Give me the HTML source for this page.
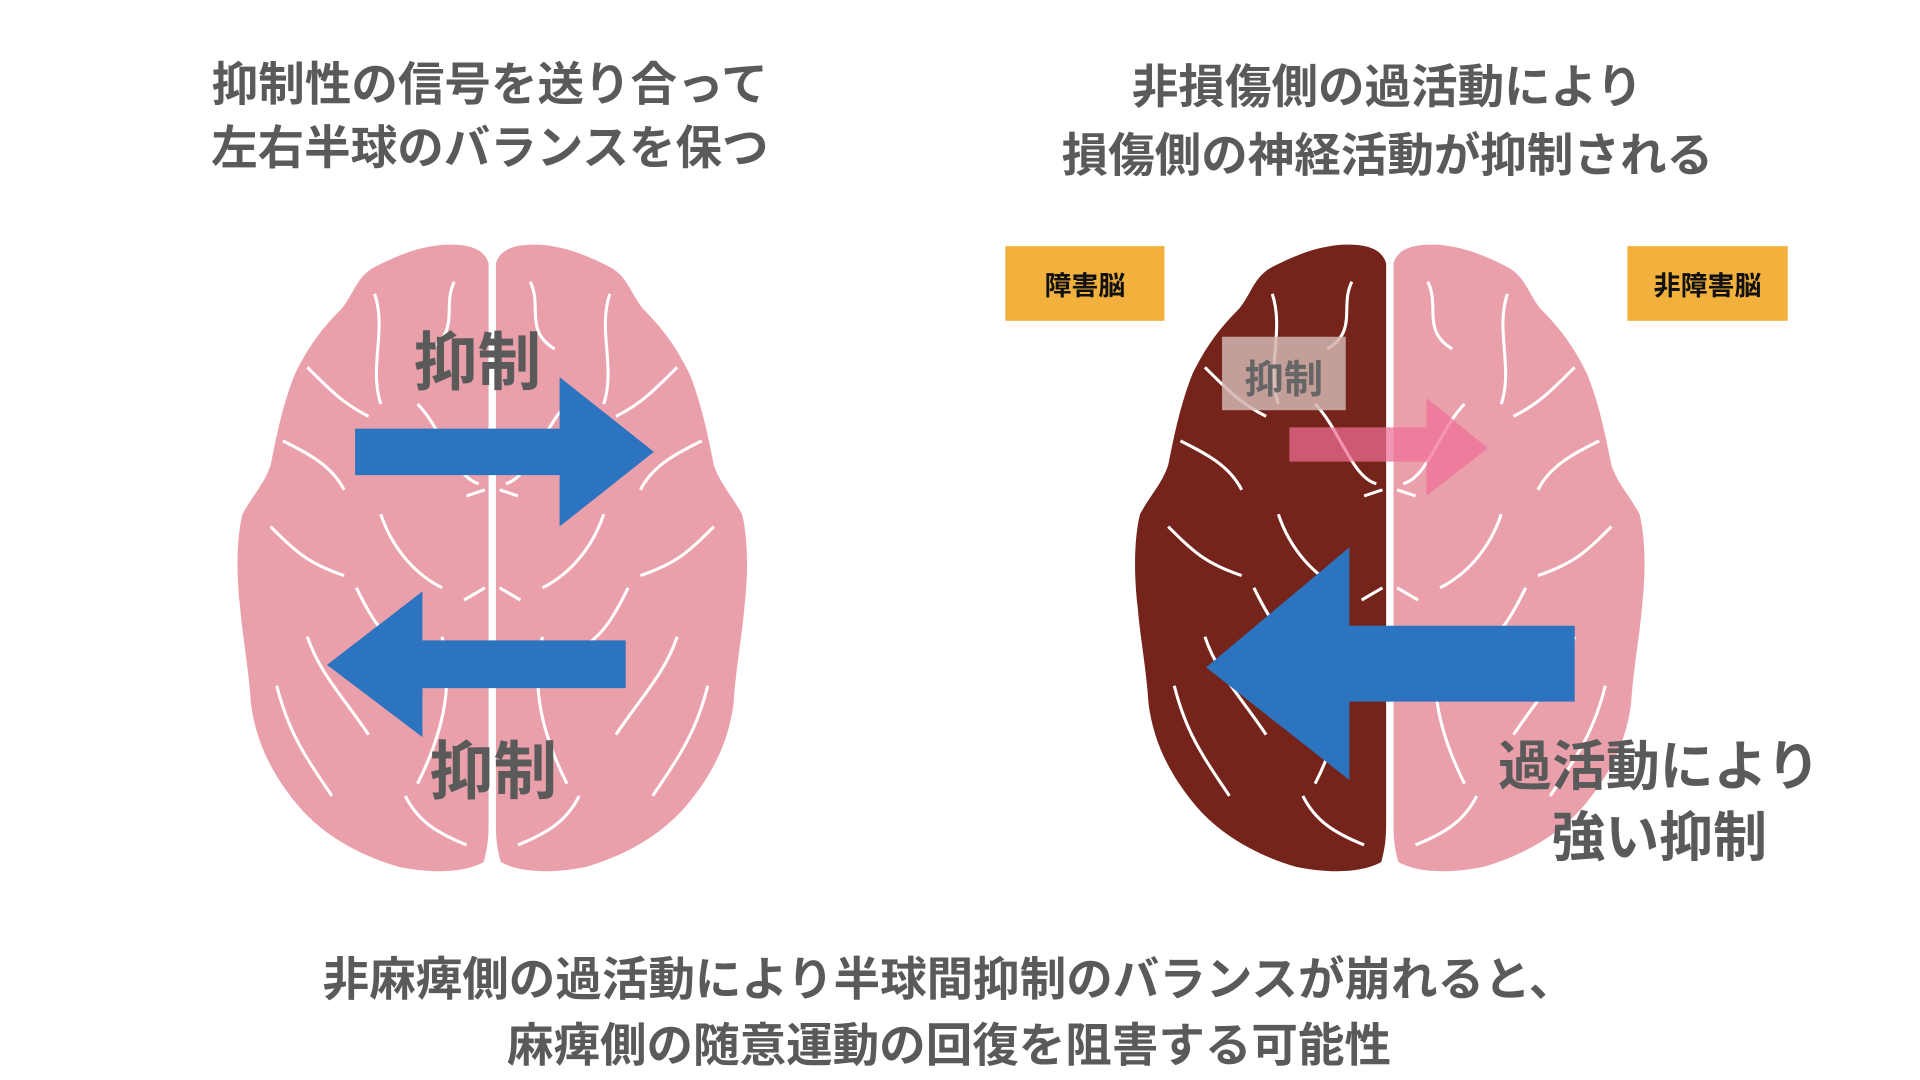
<!DOCTYPE html>
<html><head><meta charset="utf-8"><style>
html,body{margin:0;padding:0;background:#fff;width:1920px;height:1080px;overflow:hidden}
#s{position:absolute;left:0;top:0;width:1568px;height:882px;transform:scale(1.2245);transform-origin:0 0;font-family:"Liberation Sans","Noto Sans CJK JP",sans-serif;font-weight:bold}
.t{position:absolute;color:#5a5a5a;text-align:center;white-space:nowrap}
.box{position:absolute;background:#F2B13D;color:#111;font-size:22px;display:flex;align-items:center;justify-content:center}
</style></head><body><div id="s">
<svg width="1568" height="882" style="position:absolute;left:0;top:0">
<defs>
<path id="h" d="M-2 215 C-6 202 -20 199 -40 200 C-60 202 -75 208 -95 218 C-110 226 -112 240 -122 252 C-140 270 -150 285 -160 305 C-170 330 -175 355 -180 380 C-185 395 -195 405 -203 420 C-208 440 -208 470 -205 495 C-203 520 -198 545 -196 575 C-192 605 -180 630 -160 655 C-140 680 -110 698 -75 708 C-45 714 -20 712 -6 704 C-2 690 -2 680 -2 670 Z"/>
<g id="v" fill="none" stroke="#fff" stroke-width="2.5">
<path d="M-30 230 C-40 250 -25 270 -50 285 M-95 240 C-85 270 -100 300 -90 330 M-150 300 C-130 320 -120 330 -100 340 M-170 360 C-150 370 -130 380 -120 400 M-60 330 C-40 350 -30 390 -10 395 M-180 430 C-160 450 -150 460 -120 470 M-90 420 C-80 450 -60 470 -40 480 M-150 520 C-140 550 -120 570 -100 600 M-40 520 C-30 560 -40 600 -60 640 M-175 560 C-165 600 -150 620 -130 650 M-70 650 C-60 670 -45 680 -20 690 M-110 480 C-100 500 -90 520 -70 530 M-5 400 L-20 405 M-5 480 L-22 490"/>
</g>
</defs>
<g transform="translate(401,0)"><use href="#h" fill="#E9A0AB"/><use href="#v"/></g>
<g transform="translate(403,0) scale(-1,1)"><use href="#h" fill="#E9A0AB"/><use href="#v"/></g>
<g transform="translate(1134,0)"><use href="#h" fill="#74241B"/><use href="#v"/></g>
<g transform="translate(1136,0) scale(-1,1)"><use href="#h" fill="#E9A0AB"/><use href="#v"/></g>
<polygon points="290,350 457,350 457,308 534,369 457,430 457,388 290,388" fill="#2C74C0"/>
<polygon points="511,523 345,523 345,483 267,543 345,602 345,562 511,562" fill="#2C74C0"/>
<rect x="998" y="275" width="101" height="60" fill="rgba(210,180,175,0.85)"/>
<polygon points="1053,349 1165,349 1165,325 1215,366 1165,405 1165,377 1053,377" fill="rgba(240,110,150,0.72)"/>
<polygon points="1286,511 1102,511 1102,447 985,545 1102,637 1102,573 1286,573" fill="#2C74C0"/>
</svg>
<div class="t" style="left:100px;top:44px;width:600px;font-size:38px;line-height:52px">抑制性の信号を送り合って<br>左右半球のバランスを保つ</div>
<div class="t" style="left:783px;top:44px;width:700px;font-size:38px;line-height:56px">非損傷側の過活動により<br>損傷側の神経活動が抑制される</div>
<div class="t" style="left:320px;top:254px;width:140px;font-size:52px">抑制</div>
<div class="t" style="left:333px;top:588px;width:140px;font-size:52px">抑制</div>
<div class="t" style="left:998px;top:285px;width:101px;font-size:32px;color:#666">抑制</div>
<div class="box" style="left:821px;top:201px;width:130px;height:61px">障害脳</div>
<div class="box" style="left:1329px;top:201px;width:131px;height:61px">非障害脳</div>
<div class="t" style="left:1200px;top:598px;width:310px;font-size:44px;line-height:58px">過活動により<br>強い抑制</div>
<div class="t" style="left:75px;top:774px;width:1400px;font-size:38px;line-height:54px">非麻痺側の過活動により半球間抑制のバランスが崩れると、<br>麻痺側の随意運動の回復を阻害する可能性</div>
</div></body></html>
